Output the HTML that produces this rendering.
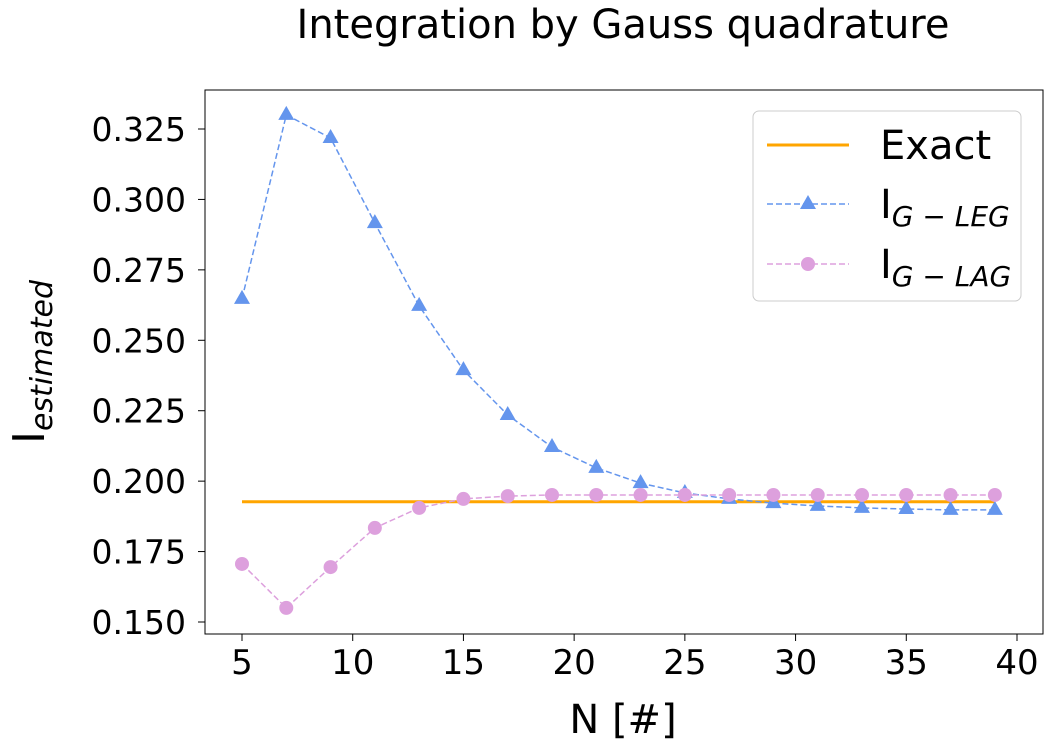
<!DOCTYPE html>
<html><head><meta charset="utf-8">
<style>
html,body{margin:0;padding:0;background:#fff;}
svg text{font-family:"DejaVu Sans","Liberation Sans",sans-serif;fill:#000;}
</style></head>
<body>
<svg id="chart" width="1055" height="747" xmlns="http://www.w3.org/2000/svg">
<text x="623" y="38" font-size="40" text-anchor="middle">Integration by Gauss quadrature</text>
<rect x="205" y="90" width="838" height="544" fill="none" stroke="#000" stroke-width="1"/>
<g id="xticks"></g>
<g id="yticks"></g>
<text x="623" y="733" font-size="40" text-anchor="middle">N [#]</text>
<text transform="translate(44,362) rotate(-90)" font-size="44" text-anchor="middle">I<tspan font-size="30" font-style="italic" dy="8">estimated</tspan></text>
<g id="series"></g>
<g>
<rect x="753" y="111" width="268" height="190" rx="6" fill="#fff" fill-opacity="0.8" stroke="#ccc"/>
<g>
<line x1="767" y1="145" x2="849" y2="145" stroke="orange" stroke-width="3"/>
<text x="880" y="159" font-size="40">Exact</text></g>
<g>
<line x1="767" y1="204" x2="849" y2="204" stroke="#6495ed" stroke-width="1.5" stroke-dasharray="6,3"/>
<polygon points="808,195 816,209 800,209" fill="#6495ed"/>
<text x="880" y="218" font-size="40">I<tspan font-size="28" font-style="italic" dy="8">G − LEG</tspan></text></g>
<g>
<line x1="767" y1="264" x2="849" y2="264" stroke="#dda0dd" stroke-width="1.5" stroke-dasharray="6,3"/>
<circle cx="808" cy="264" r="7" fill="#dda0dd"/>
<text x="880" y="278" font-size="40">I<tspan font-size="28" font-style="italic" dy="8">G − LAG</tspan></text></g>
</g>
</svg>
<script>
const nValues=[5,7,9,11,13,15,17,19,21,23,25,27,29,31,33,35,37,39];
const legValues=[0.2647,0.3300,0.3218,0.2916,0.2622,0.2394,0.2235,0.2121,0.2047,0.1993,0.1958,0.1937,0.1922,0.1912,0.1905,0.1901,0.1898,0.1898];
const lagValues=[0.1706,0.1550,0.1695,0.1834,0.1905,0.1937,0.1947,0.1951,0.1951,0.1951,0.1951,0.1951,0.1951,0.1951,0.1951,0.1951,0.1951,0.1951];
const exactValue=0.1927;
const xTickLabels=[5,10,15,20,25,30,35,40];
const yTickLabels=[0.150,0.175,0.200,0.225,0.250,0.275,0.300,0.325];

const NS="http://www.w3.org/2000/svg";
function xs(v){return 242+(v-5)*(775/35);}
function ys(v){return 622-(v-0.15)*(493/0.175);}
function mk(tag,attrs,parent){const e=document.createElementNS(NS,tag);for(const k in attrs)e.setAttribute(k,attrs[k]);parent.appendChild(e);return e;}

const gx=document.getElementById('xticks');
xTickLabels.forEach(t=>{
  const l=mk('line',{x1:xs(t),x2:xs(t),y1:634,y2:641,stroke:'#000'},gx);
  
  
  const tx=mk('text',{x:xs(t),y:674,'font-size':'34','text-anchor':'middle'},gx);
  tx.textContent=t;
  
  
});
const gy=document.getElementById('yticks');
yTickLabels.forEach(t=>{
  const l=mk('line',{x1:198,x2:205,y1:ys(t),y2:ys(t),stroke:'#000'},gy);
  
  
  const tx=mk('text',{x:186,y:ys(t)+12,'font-size':'33','text-anchor':'end'},gy);
  tx.textContent=t.toFixed(3);
  
  
});

const gs=document.getElementById('series');
const ex=mk('line',{x1:xs(nValues[0]),x2:xs(nValues[nValues.length-1]),y1:ys(exactValue),y2:ys(exactValue),stroke:'orange','stroke-width':3},gs);



const legPath=mk('polyline',{points:nValues.map((n,i)=>xs(n)+','+ys(legValues[i])).join(' '),fill:'none',stroke:'#6495ed','stroke-width':1.5,'stroke-dasharray':'6,3'},gs);


const lagPath=mk('polyline',{points:nValues.map((n,i)=>xs(n)+','+ys(lagValues[i])).join(' '),fill:'none',stroke:'#dda0dd','stroke-width':1.5,'stroke-dasharray':'6,3'},gs);



nValues.forEach((n,i)=>{
  const x=xs(n),y=ys(legValues[i]);
  const p=mk('polygon',{points:`${x},${y-9} ${x+8},${y+5} ${x-8},${y+5}`,fill:'#6495ed'},gs);
  
  
  const c=mk('circle',{cx:x,cy:ys(lagValues[i]),r:7,fill:'#dda0dd'},gs);
  
  
});
</script>
</body></html>
